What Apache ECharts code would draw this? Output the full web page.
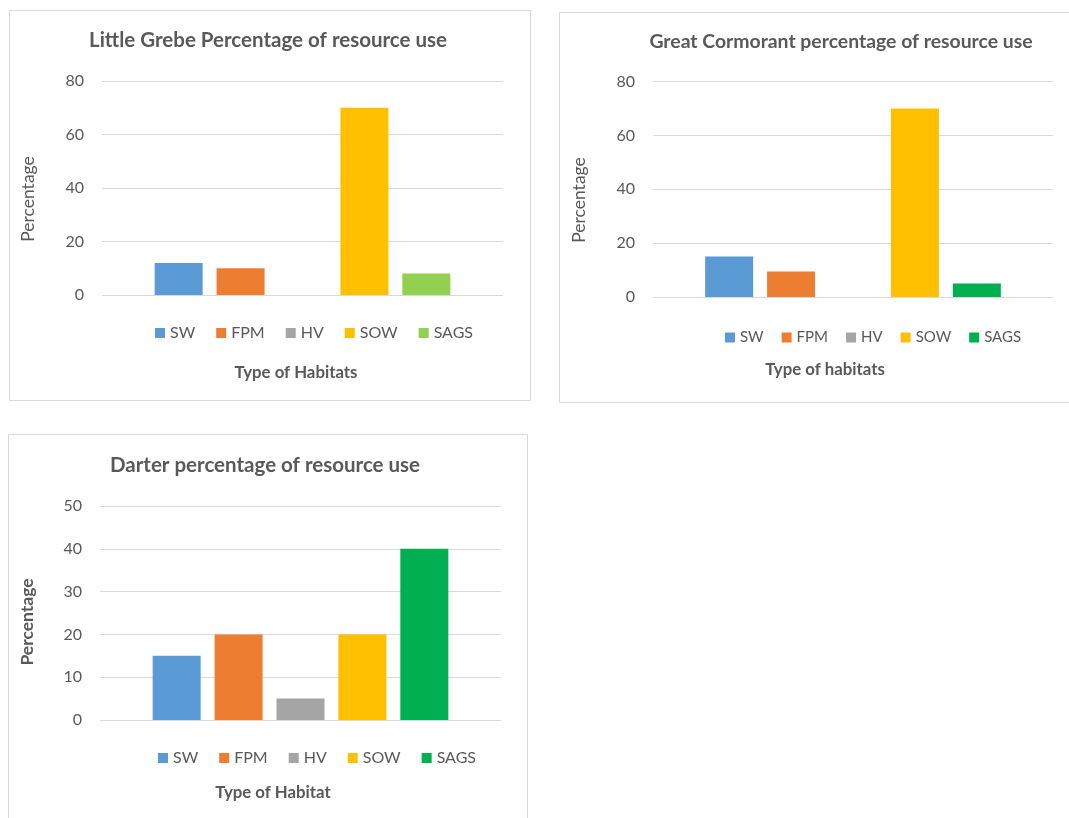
<!DOCTYPE html>
<html>
<head>
<meta charset="utf-8">
<script src="https://cdn.jsdelivr.net/npm/echarts@6/dist/echarts.min.js"></script>
<style>
  html, body { margin: 0; padding: 0; background: #ffffff; }
  #main { width: 1069px; height: 818px; }
</style>
</head>
<body>
<div id="main"></div>
<script>
// Habitat types shared by all three panels
const habitats = ['SW', 'FPM', 'HV', 'SOW', 'SAGS'];

// Percentage of resource use per habitat
const littleGrebe = [12, 10, 0, 70, 8];
const greatCormorant = [15, 9.5, 0, 70, 5];
const darter = [15, 20, 5, 20, 40];

// Panel titles and axis captions
const panelTitles = [
  'Little Grebe Percentage of resource use',
  'Great Cormorant percentage of resource use',
  'Darter percentage of resource use'
];
const xTitles = ['Type of Habitats', 'Type of habitats', 'Type of Habitat'];
const yTitle = 'Percentage';

// Value axis ranges
const yMax = [80, 80, 50];
const yStep = [20, 20, 10];

const FONT = 'Lato, "Open Sans", sans-serif';
const TEXT = '#595959';
const GRID_LINE = '#D9D9D9';

const colorsA = ['#5B9BD5', '#ED7D31', '#A5A5A5', '#FFC000', '#92D050'];
const colorsB = ['#5B9BD5', '#ED7D31', '#A5A5A5', '#FFC000', '#00B050'];
const panelColors = [colorsA, colorsB, colorsB];
const panelData = [littleGrebe, greatCormorant, darter];

// Layout of each panel
const panels = [
  { box: [9, 10, 521, 390], grid: { left: 102, top: 81, width: 401, height: 214 },
    title: [268, 40], titleSize: 20.5, xName: [296, 373], yName: [28, 199], yBold: false,
    legend: { left: 155, top: 325, fontSize: 16, gap: 21 } },
  { box: [559, 12, 530, 390], grid: { left: 653, top: 81.5, width: 400, height: 215.5 },
    title: [841, 42], titleSize: 19.4, xName: [825, 370], yName: [579, 200], yBold: false,
    legend: { left: 725, top: 330, fontSize: 15, gap: 18 } },
  { box: [8, 434, 519, 400], grid: { left: 100, top: 506, width: 401, height: 214 },
    title: [265, 465], titleSize: 20.5, xName: [273, 793], yName: [27, 622], yBold: true,
    legend: { left: 158, top: 750, fontSize: 16, gap: 21 } }
];

const chart = echarts.init(document.getElementById('main'), null, { renderer: 'canvas' });

const option = {
  backgroundColor: '#ffffff',
  animation: false,
  textStyle: { fontFamily: FONT },
  title: [],
  legend: [],
  grid: [],
  xAxis: [],
  yAxis: [],
  series: [],
  graphic: []
};

panels.forEach((p, pi) => {
  // panel frame
  option.graphic.push({
    type: 'rect',
    shape: { x: p.box[0] + 0.5, y: p.box[1] + 0.5, width: p.box[2], height: p.box[3] },
    style: { fill: 'none', stroke: GRID_LINE, lineWidth: 1 },
    z: -1
  });
  // horizontal axis caption
  option.graphic.push({
    type: 'text',
    x: p.xName[0], y: p.xName[1],
    style: {
      text: xTitles[pi], fill: TEXT, font: 'bold 16.8px ' + FONT,
      textAlign: 'center', textVerticalAlign: 'middle'
    }
  });
  // vertical axis caption
  option.graphic.push({
    type: 'text',
    x: p.yName[0], y: p.yName[1],
    rotation: Math.PI / 2,
    style: {
      text: yTitle, fill: TEXT, font: (p.yBold ? 'bold ' : '') + '17.5px ' + FONT,
      textAlign: 'center', textVerticalAlign: 'middle'
    }
  });

  option.title.push({
    text: panelTitles[pi],
    left: p.title[0], top: p.title[1] - p.titleSize * 0.48,
    textAlign: 'center',
    padding: 0,
    textStyle: { color: TEXT, fontFamily: FONT, fontWeight: 'bold', fontSize: p.titleSize }
  });

  option.legend.push({
    left: p.legend.left, top: p.legend.top,
    padding: 0,
    orient: 'horizontal',
    itemWidth: 10, itemHeight: 10, itemGap: p.legend.gap,
    icon: 'rect',
    selectedMode: false,
    textStyle: { color: TEXT, fontFamily: FONT, fontSize: p.legend.fontSize },
    data: habitats.map((h, i) => ({ name: h, itemStyle: { color: panelColors[pi][i] } }))
  });

  option.grid.push(Object.assign({ containLabel: false }, p.grid));

  option.xAxis.push({
    type: 'category', gridIndex: pi, data: [''],
    axisLine: { show: false }, axisTick: { show: false }, axisLabel: { show: false },
    splitLine: { show: false }
  });

  option.yAxis.push({
    type: 'value', gridIndex: pi, min: 0, max: yMax[pi], interval: yStep[pi],
    axisLine: { show: false }, axisTick: { show: false },
    axisLabel: { color: TEXT, fontFamily: FONT, fontSize: 16, margin: 18 },
    splitLine: { show: true, lineStyle: { color: GRID_LINE, width: 1 } }
  });

  habitats.forEach((h, i) => {
    option.series.push({
      type: 'bar', name: h,
      xAxisIndex: pi, yAxisIndex: pi,
      data: [panelData[pi][i]],
      barWidth: 48, barGap: '29%',
      itemStyle: { color: panelColors[pi][i] }
    });
  });
});

chart.setOption(option);
</script>
</body>
</html>
